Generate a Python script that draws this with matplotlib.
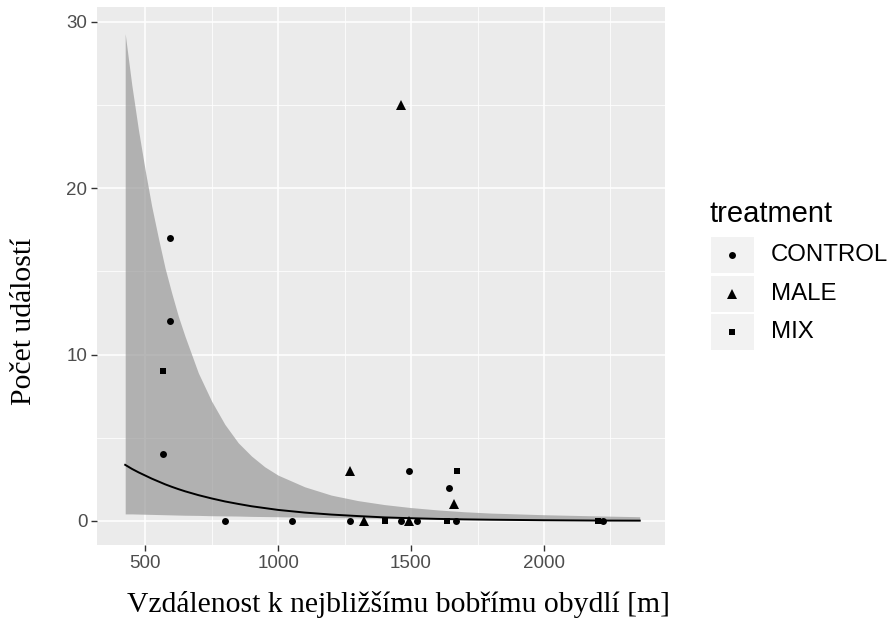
import numpy as np
import matplotlib.pyplot as plt
from matplotlib.patches import Rectangle

# body - pocet udalosti podle vzdalenosti
control_x = [594, 594, 568, 801, 1053, 1271, 1462, 1492, 1523, 1643, 1669, 2222]
control_y = [17, 12, 4, 0, 0, 0, 0, 3, 0, 2, 0, 0]
male_x = [1271, 1323, 1462, 1492, 1662]
male_y = [3, 0, 25, 0, 1]
mix_x = [568, 1402, 1635, 1673, 2203]
mix_y = [9, 0, 0, 3, 0]

# vyhlazena krivka a pas spolehlivosti
fit_x = [425, 450, 475, 500, 525, 550, 575, 600, 625, 650, 700, 750, 800, 850,
         900, 950, 1000, 1100, 1200, 1300, 1400, 1500, 1600, 1700, 1800, 2000,
         2200, 2360]
fit_y = [3.37, 3.13, 2.92, 2.73, 2.54, 2.37, 2.20, 2.05, 1.91, 1.78, 1.55,
         1.35, 1.17, 1.02, 0.88, 0.77, 0.66, 0.50, 0.38, 0.29, 0.21, 0.16,
         0.12, 0.09, 0.07, 0.04, 0.02, 0.014]
fit_hi = [29.3, 26.2, 23.5, 21.1, 18.9, 17.0, 15.2, 13.7, 12.3, 11.1, 8.9, 7.2,
          5.8, 4.7, 3.9, 3.25, 2.75, 2.05, 1.55, 1.22, 0.98, 0.8, 0.66, 0.55, 0.47,
          0.37, 0.3, 0.25]
fit_lo = [0.42, 0.42, 0.41, 0.40, 0.39, 0.38, 0.37, 0.36, 0.35, 0.34, 0.33,
          0.31, 0.30, 0.29, 0.27, 0.26, 0.25, 0.22, 0.20, 0.18, 0.16, 0.14,
          0.12, 0.10, 0.08, 0.05, 0.03, 0.02]

kategorie = ['CONTROL', 'MALE', 'MIX']
znacky = ['o', '^', 's']
velikosti = [5, 6.5, 5]

plt.rcParams['font.family'] = ['Liberation Sans', 'DejaVu Sans']

fig = plt.figure(figsize=(8.88, 6.21), dpi=100)
ax = fig.add_axes([97 / 888, 1 - 545 / 621, 568 / 888, 538 / 621])
ax.set_facecolor('#EBEBEB')

ax.fill_between(fit_x, fit_lo, fit_hi, color='#999999', alpha=0.7, lw=0, zorder=2)
ax.plot(fit_x, fit_y, color='black', lw=1.4, zorder=3)

for xs, ys, m, ms in zip([control_x, male_x, mix_x], [control_y, male_y, mix_y],
                         znacky, velikosti):
    ax.plot(xs, ys, ls='none', marker=m, color='black', ms=ms, mew=0, zorder=4)

ax.set_xlim(319, 2455)
ax.set_ylim(-1.45, 30.9)
ax.set_xticks([500, 1000, 1500, 2000])
ax.set_xticks([750, 1250, 1750, 2250], minor=True)
ax.set_yticks([0, 10, 20, 30])
ax.set_yticks([5, 15, 25], minor=True)
ax.grid(which='major', color='white', lw=1.1, zorder=1)
ax.grid(which='minor', color='white', lw=0.55, zorder=1)
ax.set_axisbelow(True)
for s in ax.spines.values():
    s.set_visible(False)
ax.tick_params(which='major', length=4, width=1, color='#333333',
               labelcolor='#4D4D4D', labelsize=13.5, pad=3)
ax.tick_params(which='minor', length=0)

ax.set_xlabel('Vzdálenost k nejbližšímu bobřímu obydlí [m]',
              family='Liberation Serif', fontsize=21.3)
ax.set_ylabel('Počet událostí', family='Liberation Serif', fontsize=21.3)
ax.xaxis.set_label_coords(0.53, -0.085)
ax.yaxis.set_label_coords(-0.105, 0.416)

# legenda
lg = fig.add_axes([0, 0, 1, 1], facecolor='none')
lg.set_xlim(0, 888)
lg.set_ylim(621, 0)
lg.axis('off')
lg.text(709, 214, 'treatment', fontsize=21, va='center', ha='left')
for i, (k, m, ms) in enumerate(zip(kategorie, znacky, velikosti)):
    yc = 255 + i * 38.5
    lg.add_patch(Rectangle((711, yc - 18), 43, 36, facecolor='#F2F2F2', edgecolor='none'))
    lg.plot([732], [yc], marker=m, color='black', ms=ms, mew=0)
    lg.text(771, yc, k, fontsize=17.3, va='center', ha='left')

fig.savefig('out.png', dpi=100)
